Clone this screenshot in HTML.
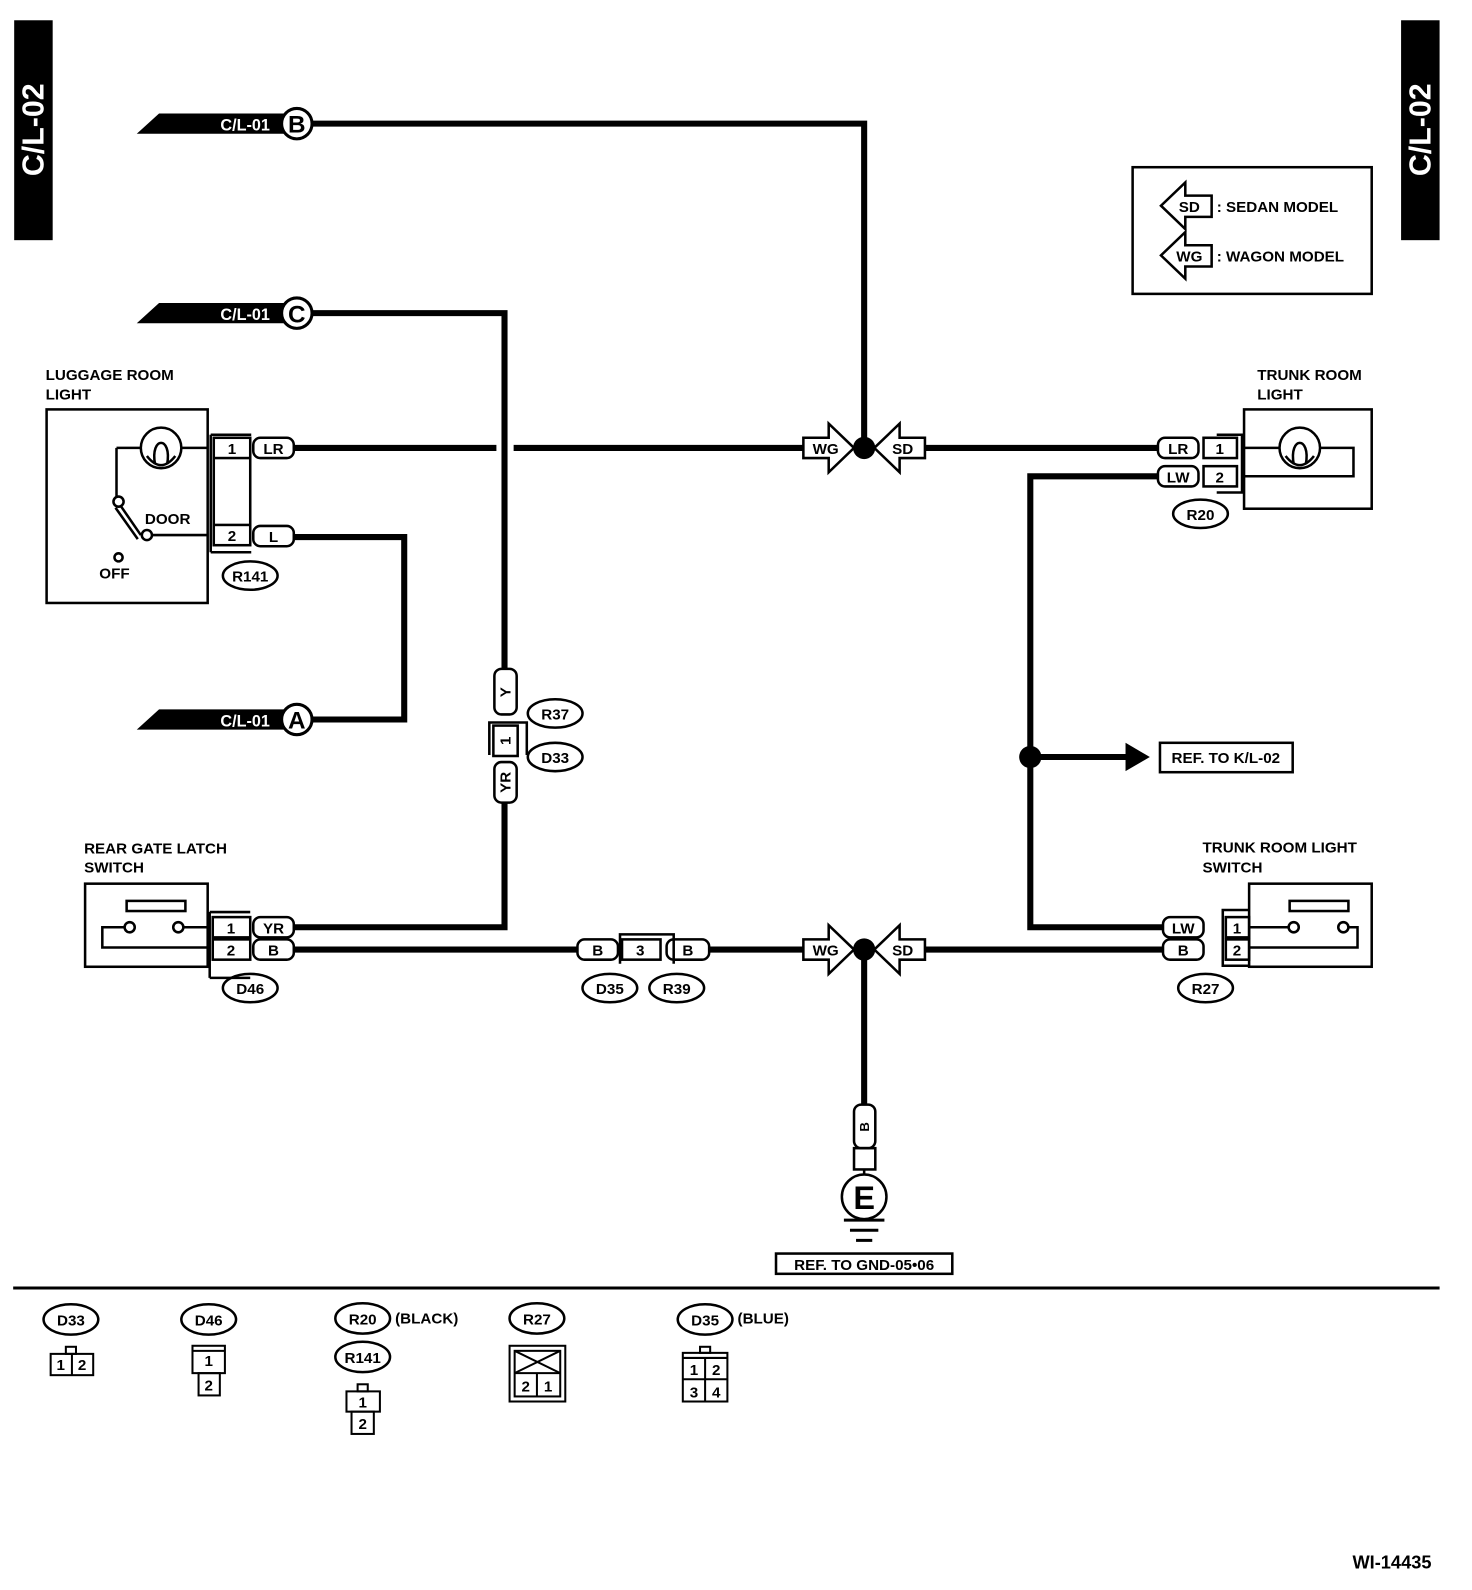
<!DOCTYPE html>
<html><head><meta charset="utf-8"><style>
html,body{margin:0;padding:0;background:#fff;}
svg{display:block;}
text{font-family:"Liberation Sans",sans-serif;font-weight:bold;}
</style></head><body>
<svg width="1472" height="1590" viewBox="0 0 1453 1569" preserveAspectRatio="none" xmlns="http://www.w3.org/2000/svg">
<rect width="1453" height="1569" fill="#fff"/>
<rect x="14" y="20" width="38" height="217" fill="#000"/>
<text transform="translate(43,128) rotate(-90)" font-size="30" fill="#fff" text-anchor="middle">C/L-02</text>
<rect x="1383" y="20" width="38" height="217" fill="#000"/>
<text transform="translate(1412,128) rotate(-90)" font-size="30" fill="#fff" text-anchor="middle">C/L-02</text>

<g fill="none" stroke="#000" stroke-width="6">
<polyline points="308,122 853,122 853,442"/>
<polyline points="308,309 498,309 498,660"/>
<polyline points="308,710 399,710 399,530 290,530"/>
<line x1="290" y1="442" x2="490" y2="442"/>
<line x1="507" y1="442" x2="793" y2="442"/>
<line x1="913" y1="442" x2="1143" y2="442"/>
<polyline points="1143,470 1017,470 1017,915 1148,915"/>
<line x1="1017" y1="747" x2="1113" y2="747"/>
<polyline points="498,792 498,915 290,915"/>
<line x1="290" y1="937" x2="570" y2="937"/>
<line x1="700" y1="937" x2="793" y2="937"/>
<line x1="913" y1="937" x2="1148" y2="937"/>
<line x1="853" y1="937" x2="853" y2="1090"/>
</g>

<g>
<polygon points="135,132 157,112 285,112 285,132" fill="#000"/>
<text x="242" y="129" font-size="16" fill="#fff" text-anchor="middle" font-weight="normal">C/L-01</text>
<circle cx="293" cy="122" r="15" fill="#fff" stroke="#000" stroke-width="3"/>
<text x="293" y="131" font-size="24" text-anchor="middle">B</text>

<polygon points="135,319 157,299 285,299 285,319" fill="#000"/>
<text x="242" y="316" font-size="16" fill="#fff" text-anchor="middle" font-weight="normal">C/L-01</text>
<circle cx="293" cy="309" r="15" fill="#fff" stroke="#000" stroke-width="3"/>
<text x="293" y="318" font-size="24" text-anchor="middle">C</text>

<polygon points="135,720 157,700 285,700 285,720" fill="#000"/>
<text x="242" y="717" font-size="16" fill="#fff" text-anchor="middle" font-weight="normal">C/L-01</text>
<circle cx="293" cy="710" r="15" fill="#fff" stroke="#000" stroke-width="3"/>
<text x="293" y="719" font-size="24" text-anchor="middle">A</text>
</g>

<g font-size="15">
<text x="45" y="375">LUGGAGE ROOM</text>
<text x="45" y="394">LIGHT</text>
<g fill="none" stroke="#000" stroke-width="2.5">
<rect x="46" y="404" width="159" height="191"/>
<circle cx="159" cy="442" r="20"/>
<path d="M145,450 Q159,468 173,450 M153,458 C148,430 170,430 165,458"/>
<line x1="115" y1="442" x2="139" y2="442"/>
<line x1="179" y1="442" x2="205" y2="442"/>
<line x1="115" y1="442" x2="115" y2="490"/>
<circle cx="117" cy="495" r="5" fill="#fff"/>
<line x1="119" y1="499" x2="139" y2="528"/><line x1="114" y1="501" x2="136" y2="532"/>
<circle cx="145" cy="528" r="5" fill="#fff"/>
<line x1="150" y1="528" x2="205" y2="528"/>
<circle cx="117" cy="550" r="4"/>
<line x1="208" y1="429" x2="248" y2="429"/>
<line x1="208" y1="545" x2="248" y2="545"/>
<line x1="208" y1="429" x2="208" y2="545"/>
<rect x="211" y="432" width="36" height="20"/>
<rect x="211" y="518" width="36" height="20"/>
<line x1="247" y1="452" x2="247" y2="518"/>
<line x1="211" y1="452" x2="211" y2="518"/>
<rect x="250" y="432" width="40" height="20" rx="7"/>
<rect x="250" y="519" width="40" height="20" rx="7"/>
<ellipse cx="247" cy="568" rx="27" ry="14"/>
</g>
<text x="143" y="517">DOOR</text>
<text x="98" y="571">OFF</text>
<text x="229" y="448" text-anchor="middle" font-weight="normal">1</text>
<text x="229" y="534" text-anchor="middle" font-weight="normal">2</text>
<text x="270" y="448" text-anchor="middle">LR</text>
<text x="270" y="535" text-anchor="middle">L</text>
<text x="247" y="574" text-anchor="middle">R141</text>

<g fill="#fff" stroke="#000" stroke-width="2.5">
<polygon points="793,432 818,432 818,418 843,442 818,466 818,452 793,452"/>
<polygon points="913,432 888,432 888,418 863,442 888,466 888,452 913,452"/>
<polygon points="793,927 818,927 818,913 843,937 818,961 818,947 793,947"/>
<polygon points="913,927 888,927 888,913 863,937 888,961 888,947 913,947"/>
</g>
<circle cx="853" cy="442" r="11"/>
<circle cx="853" cy="937" r="11"/>
<circle cx="1017" cy="747" r="11"/>
<text x="815" y="448" text-anchor="middle">WG</text>
<text x="891" y="448" text-anchor="middle">SD</text>
<text x="815" y="943" text-anchor="middle">WG</text>
<text x="891" y="943" text-anchor="middle">SD</text>

<g fill="none" stroke="#000" stroke-width="2.5">
<rect x="1118" y="165" width="236" height="125"/>
<polygon points="1196,193 1170,193 1170,180 1146,203 1170,226 1170,214 1196,214"/>
<polygon points="1196,242 1170,242 1170,229 1146,252 1170,275 1170,263 1196,263"/>
</g>
<text x="1174" y="209" text-anchor="middle">SD</text>
<text x="1174" y="258" text-anchor="middle">WG</text>
<text x="1201" y="209">: SEDAN MODEL</text>
<text x="1201" y="258">: WAGON MODEL</text>

<text x="1241" y="375">TRUNK ROOM</text>
<text x="1241" y="394">LIGHT</text>
<g fill="none" stroke="#000" stroke-width="2.5">
<rect x="1228" y="404" width="126" height="98"/>
<circle cx="1283" cy="442" r="20"/>
<path d="M1269,450 Q1283,468 1297,450 M1277,458 C1272,430 1294,430 1289,458"/>
<line x1="1228" y1="442" x2="1263" y2="442"/>
<polyline points="1303,442 1336,442 1336,470 1228,470"/>
<polyline points="1201,429 1226,429 1226,486 1201,486"/>
<rect x="1188" y="432" width="33" height="20"/>
<rect x="1188" y="460" width="33" height="20"/>
<rect x="1143" y="432" width="40" height="20" rx="7"/>
<rect x="1143" y="460" width="40" height="20" rx="7"/>
<ellipse cx="1185" cy="507" rx="27" ry="14"/>
</g>
<text x="1204" y="448" text-anchor="middle" font-weight="normal">1</text>
<text x="1204" y="476" text-anchor="middle" font-weight="normal">2</text>
<text x="1163" y="448" text-anchor="middle">LR</text>
<text x="1163" y="476" text-anchor="middle">LW</text>
<text x="1185" y="513" text-anchor="middle">R20</text>

<polygon points="1111,733 1135,747 1111,761"/>
<rect x="1145" y="733" width="131" height="29" fill="none" stroke="#000" stroke-width="2.5"/>
<text x="1210" y="753" text-anchor="middle">REF. TO K/L-02</text>

<g fill="none" stroke="#000" stroke-width="2.5">
<rect x="488" y="660" width="22" height="45" rx="7"/>
<polyline points="483,745 483,713 520,713 520,745"/>
<rect x="487" y="716" width="24" height="30"/>
<rect x="488" y="752" width="22" height="40" rx="7"/>
<ellipse cx="548" cy="704" rx="27" ry="14"/>
<ellipse cx="548" cy="747" rx="27" ry="14"/>
</g>
<text transform="translate(504,683) rotate(-90)" text-anchor="middle">Y</text>
<text transform="translate(504,731) rotate(-90)" text-anchor="middle" font-weight="normal">1</text>
<text transform="translate(504,772) rotate(-90)" text-anchor="middle">YR</text>
<text x="548" y="710" text-anchor="middle">R37</text>
<text x="548" y="753" text-anchor="middle">D33</text>

<text x="83" y="842">REAR GATE LATCH</text>
<text x="83" y="861">SWITCH</text>
<g fill="none" stroke="#000" stroke-width="2.5">
<rect x="84" y="872" width="121" height="82"/>
<rect x="125" y="889" width="58" height="10"/>
<circle cx="128" cy="915" r="5"/>
<circle cx="176" cy="915" r="5"/>
<polyline points="123,915 101,915 101,935 205,935"/>
<line x1="181" y1="915" x2="205" y2="915"/>
<line x1="207" y1="900" x2="247" y2="900"/>
<line x1="207" y1="965" x2="247" y2="965"/>
<line x1="207" y1="900" x2="207" y2="965"/>
<rect x="210" y="905" width="37" height="20"/>
<rect x="210" y="927" width="37" height="20"/>
<rect x="250" y="905" width="40" height="20" rx="7"/>
<rect x="250" y="927" width="40" height="20" rx="7"/>
<ellipse cx="247" cy="975" rx="27" ry="14"/>
</g>
<text x="228" y="921" text-anchor="middle" font-weight="normal">1</text>
<text x="228" y="943" text-anchor="middle" font-weight="normal">2</text>
<text x="270" y="921" text-anchor="middle">YR</text>
<text x="270" y="943" text-anchor="middle">B</text>
<text x="247" y="981" text-anchor="middle">D46</text>

<g fill="none" stroke="#000" stroke-width="2.5">
<rect x="570" y="927" width="40" height="20" rx="7"/>
<polyline points="612,951 612,922 665,922 665,951"/>
<rect x="614" y="927" width="38" height="20"/>
<rect x="658" y="927" width="42" height="20" rx="7"/>
<ellipse cx="602" cy="975" rx="27" ry="14"/>
<ellipse cx="668" cy="975" rx="27" ry="14"/>
</g>
<text x="590" y="943" text-anchor="middle">B</text>
<text x="632" y="943" text-anchor="middle">3</text>
<text x="679" y="943" text-anchor="middle">B</text>
<text x="602" y="981" text-anchor="middle">D35</text>
<text x="668" y="981" text-anchor="middle">R39</text>

<text x="1187" y="841">TRUNK ROOM LIGHT</text>
<text x="1187" y="861">SWITCH</text>
<g fill="none" stroke="#000" stroke-width="2.5">
<rect x="1233" y="872" width="121" height="82"/>
<rect x="1273" y="889" width="58" height="10"/>
<circle cx="1277" cy="915" r="5"/>
<circle cx="1326" cy="915" r="5"/>
<line x1="1233" y1="915" x2="1272" y2="915"/>
<polyline points="1331,915 1340,915 1340,935 1233,935"/>
<polyline points="1233,898 1207,898 1207,953 1233,953"/>
<rect x="1210" y="905" width="23" height="20"/>
<rect x="1210" y="927" width="23" height="20"/>
<rect x="1148" y="905" width="40" height="20" rx="7"/>
<rect x="1148" y="927" width="40" height="20" rx="7"/>
<ellipse cx="1190" cy="975" rx="27" ry="14"/>
</g>
<text x="1221" y="921" text-anchor="middle" font-weight="normal">1</text>
<text x="1221" y="943" text-anchor="middle" font-weight="normal">2</text>
<text x="1168" y="921" text-anchor="middle">LW</text>
<text x="1168" y="943" text-anchor="middle">B</text>
<text x="1190" y="981" text-anchor="middle">R27</text>

<g fill="none" stroke="#000" stroke-width="2.5">
<rect x="843" y="1090" width="21" height="43" rx="7"/>
<rect x="843" y="1133" width="21" height="21"/>
<circle cx="853" cy="1181" r="22"/>
<line x1="853" y1="1154" x2="853" y2="1159"/>
</g>
<line x1="833" y1="1204" x2="873" y2="1204" stroke="#000" stroke-width="3"/>
<line x1="839" y1="1214" x2="867" y2="1214" stroke="#000" stroke-width="3"/>
<line x1="845" y1="1224" x2="861" y2="1224" stroke="#000" stroke-width="3"/>
<text transform="translate(858,1112) rotate(-90)" text-anchor="middle" font-size="13">B</text>
<text x="853" y="1193" text-anchor="middle" font-size="32">E</text>
<rect x="766" y="1237" width="174" height="20" fill="none" stroke="#000" stroke-width="2.5"/>
<text x="853" y="1253" text-anchor="middle">REF. TO GND-05•06</text>
</g>

<line x1="13" y1="1271" x2="1421" y2="1271" stroke="#000" stroke-width="3"/>

<g fill="none" stroke="#000" stroke-width="2">
<ellipse cx="70" cy="1302" rx="27" ry="15" stroke-width="2.5"/>
<rect x="65" y="1329" width="10" height="7"/>
<rect x="50" y="1336" width="42" height="21"/>
<line x1="71" y1="1336" x2="71" y2="1357"/>

<ellipse cx="206" cy="1302" rx="27" ry="15" stroke-width="2.5"/>
<rect x="190" y="1328" width="32" height="27"/>
<line x1="190" y1="1333" x2="222" y2="1333"/>
<rect x="196" y="1355" width="21" height="22"/>

<ellipse cx="358" cy="1301" rx="27" ry="15" stroke-width="2.5"/>
<ellipse cx="358" cy="1339" rx="27" ry="15" stroke-width="2.5"/>
<rect x="353" y="1366" width="10" height="7"/>
<rect x="342" y="1373" width="33" height="20"/>
<rect x="347" y="1393" width="22" height="22"/>

<ellipse cx="530" cy="1301" rx="27" ry="15" stroke-width="2.5"/>
<rect x="503" y="1328" width="55" height="55"/>
<rect x="508" y="1333" width="45" height="45"/>
<line x1="508" y1="1355" x2="553" y2="1355"/>
<line x1="508" y1="1333" x2="553" y2="1355"/><line x1="553" y1="1333" x2="508" y2="1355"/>
<line x1="530" y1="1355" x2="530" y2="1378"/>

<ellipse cx="696" cy="1302" rx="27" ry="15" stroke-width="2.5"/>
<rect x="691" y="1329" width="10" height="6"/>
<rect x="674" y="1335" width="44" height="48"/>
<line x1="674" y1="1340" x2="718" y2="1340"/>
<line x1="674" y1="1361" x2="718" y2="1361"/>
<line x1="696" y1="1340" x2="696" y2="1383"/>
</g>
<g font-size="15">
<text x="70" y="1308" text-anchor="middle">D33</text>
<text x="206" y="1308" text-anchor="middle">D46</text>
<text x="358" y="1307" text-anchor="middle">R20</text>
<text x="390" y="1306">(BLACK)</text>
<text x="358" y="1345" text-anchor="middle">R141</text>
<text x="530" y="1307" text-anchor="middle">R27</text>
<text x="696" y="1308" text-anchor="middle">D35</text>
<text x="728" y="1306">(BLUE)</text>
</g>
<g font-size="15" text-anchor="middle">
<text x="60" y="1352" font-weight="normal">1</text><text x="81" y="1352" font-weight="normal">2</text>
<text x="206" y="1348" font-weight="normal">1</text><text x="206" y="1372" font-weight="normal">2</text>
<text x="358" y="1389" font-weight="normal">1</text><text x="358" y="1410" font-weight="normal">2</text>
<text x="519" y="1373" font-weight="normal">2</text><text x="541" y="1373" font-weight="normal">1</text>
<text x="685" y="1357" font-weight="normal">1</text><text x="707" y="1357" font-weight="normal">2</text>
<text x="685" y="1379" font-weight="normal">3</text><text x="707" y="1379" font-weight="normal">4</text>
</g>

<text x="1413" y="1548" font-size="18" text-anchor="end" font-weight="normal">WI-14435</text>
</svg>
</body></html>
